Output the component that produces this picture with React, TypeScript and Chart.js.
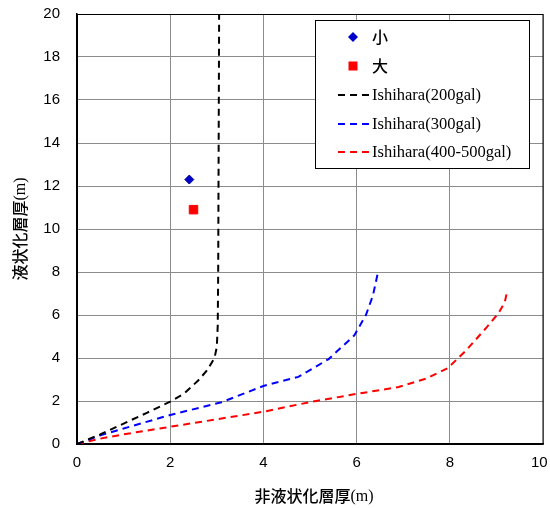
import React, { useEffect, useRef } from "react";
import { Chart, registerables } from "chart.js";

Chart.register(...registerables);

// 非液状化層厚 (x) vs 液状化層厚 (y)
const smallPoint = [{ x: 2.41, y: 12.3 }];
const largePoint = [{ x: 2.5, y: 10.9 }];

const ishihara200X = [0, 0.5, 1.0, 1.5, 2.0, 2.3, 2.6, 2.8, 2.95, 3.0, 3.02, 3.03, 3.04, 3.05];
const ishihara200Y = [0, 0.45, 0.95, 1.45, 1.97, 2.35, 2.95, 3.45, 4.0, 4.5, 5.5, 8, 14, 20];

const ishihara300X = [0, 0.5, 1.0, 2.0, 3.1, 4.0, 4.75, 5.4, 5.95, 6.2, 6.35, 6.45];
const ishihara300Y = [0, 0.4, 0.72, 1.35, 1.94, 2.7, 3.12, 3.95, 5.05, 6.0, 6.9, 7.9];

const ishihara400X = [0, 0.5, 1.0, 2.0, 3.0, 4.0, 5.0, 6.0, 6.9, 7.5, 7.95, 8.35, 8.8, 9.05, 9.18, 9.22];
const ishihara400Y = [0, 0.25, 0.45, 0.8, 1.15, 1.5, 1.95, 2.33, 2.65, 3.05, 3.52, 4.35, 5.45, 6.1, 6.6, 7.0];

const xTicks = [0, 2, 4, 6, 8, 10];
const yTicks = [0, 2, 4, 6, 8, 10, 12, 14, 16, 18, 20];

const xTitle = ["非液状化層厚", "(m)"];
const yTitle = ["液状化層厚", "(m)"];

const legendRows: [string, string][] = [
  ["#000000", "Ishihara(200gal)"],
  ["#0000ff", "Ishihara(300gal)"],
  ["#ff0000", "Ishihara(400-500gal)"],
];

const toPoints = (xs: number[], ys: number[]) => xs.map((x, i) => ({ x, y: ys[i] }));

const DASH = [7, 5];
const tickFont = { family: '"Liberation Sans", Arial, sans-serif', size: 15 };
const cjkFont = '500 16px "Noto Sans CJK JP", sans-serif';
const serifFont = '16px "Liberation Serif", "Times New Roman", serif';

// Draws a title made of a CJK part followed by a serif "(m)", centred on (cx, cy)
function drawMixedTitle(ctx: CanvasRenderingContext2D, parts: string[], cx: number, cy: number, rotate: boolean) {
  ctx.save();
  ctx.translate(cx, cy);
  if (rotate) ctx.rotate(-Math.PI / 2);
  ctx.fillStyle = "#000000";
  ctx.textBaseline = "middle";
  ctx.textAlign = "left";
  ctx.font = cjkFont;
  const w1 = ctx.measureText(parts[0]).width;
  ctx.font = serifFont;
  const w2 = ctx.measureText(parts[1]).width;
  const start = -(w1 + w2) / 2;
  ctx.font = cjkFont;
  ctx.fillText(parts[0], start, 0);
  ctx.font = serifFont;
  ctx.fillText(parts[1], start + w1, 1);
  ctx.restore();
}

// Frame, axis titles and boxed legend
const decorations = {
  id: "decorations",
  afterDraw(chart: Chart) {
    const ctx = chart.ctx;
    const area = chart.chartArea;
    ctx.save();
    ctx.strokeStyle = "#000000";
    ctx.lineWidth = 1;
    ctx.strokeRect(area.left + 0.5, area.top + 0.5, area.right - area.left - 0.5, area.bottom - area.top);
    ctx.restore();

    drawMixedTitle(ctx, xTitle, (area.left + area.right) / 2 + 4, 496, false);
    drawMixedTitle(ctx, yTitle, 20, (area.top + area.bottom) / 2, true);

    const left = 315;
    const top = 20;
    const right = 529;
    const bottom = 168;
    ctx.save();
    ctx.fillStyle = "#ffffff";
    ctx.fillRect(left, top, right - left, bottom - top);
    ctx.strokeStyle = "#000000";
    ctx.lineWidth = 1;
    ctx.strokeRect(left + 0.5, top + 0.5, right - left, bottom - top);

    const textX = 372;
    const markX = 353;

    ctx.fillStyle = "#0000cc";
    ctx.beginPath();
    ctx.moveTo(markX, 37 - 5);
    ctx.lineTo(markX + 5, 37);
    ctx.lineTo(markX, 37 + 5);
    ctx.lineTo(markX - 5, 37);
    ctx.closePath();
    ctx.fill();
    ctx.fillStyle = "#ff0000";
    ctx.fillRect(markX - 4.5, 66 - 4.5, 9, 9);

    ctx.fillStyle = "#000000";
    ctx.textBaseline = "middle";
    ctx.textAlign = "left";
    ctx.font = cjkFont;
    ctx.fillText("小", textX, 37);
    ctx.fillText("大", textX, 66);

    const rowY = [95, 124, 152];
    ctx.font = '16.5px "Liberation Serif", "Times New Roman", serif';
    legendRows.forEach(([color, label], i) => {
      const y = rowY[i];
      ctx.strokeStyle = color;
      ctx.lineWidth = 2;
      ctx.setLineDash(DASH);
      ctx.beginPath();
      ctx.moveTo(338, y);
      ctx.lineTo(369, y);
      ctx.stroke();
      ctx.setLineDash([]);
      ctx.fillStyle = "#000000";
      ctx.fillText(label, textX, y + 1);
    });
    ctx.restore();
  },
};

export default function App() {
  const canvasRef = useRef<HTMLCanvasElement | null>(null);

  useEffect(() => {
    document.body.style.margin = "0";
    const canvas = canvasRef.current;
    if (!canvas) return;
    const lineStyle = {
      showLine: true,
      borderWidth: 2,
      borderDash: DASH,
      pointRadius: 0,
      fill: false,
      tension: 0,
    };
    const lastX = xTicks[xTicks.length - 1];
    const chart = new Chart(canvas, {
      type: "scatter",
      data: {
        datasets: [
          {
            label: legendRows[0][1],
            data: toPoints(ishihara200X, ishihara200Y),
            borderColor: legendRows[0][0],
            ...lineStyle,
          },
          {
            label: legendRows[1][1],
            data: toPoints(ishihara300X, ishihara300Y),
            borderColor: legendRows[1][0],
            ...lineStyle,
          },
          {
            label: legendRows[2][1],
            data: toPoints(ishihara400X, ishihara400Y),
            borderColor: legendRows[2][0],
            ...lineStyle,
          },
          {
            label: "小",
            data: smallPoint,
            pointStyle: "rectRot",
            pointRadius: 4.5,
            backgroundColor: "#0000cc",
            borderColor: "#000099",
            borderWidth: 1,
          },
          {
            label: "大",
            data: largePoint,
            pointStyle: "rect",
            pointRadius: 6,
            backgroundColor: "#ff0000",
            borderColor: "#ff0000",
            borderWidth: 1,
          },
        ],
      },
      options: {
        animation: false,
        responsive: false,
        layout: { padding: { top: 14, right: 6, left: 0, bottom: 0 } },
        plugins: {
          legend: { display: false },
          tooltip: { enabled: false },
        },
        scales: {
          x: {
            type: "linear",
            min: 0,
            max: 10,
            afterBuildTicks: (scale: any) => {
              scale.ticks = xTicks.map((v) => ({ value: v }));
            },
            afterFit: (scale: any) => {
              scale.height = 64;
              scale.paddingRight = 0;
              scale.paddingLeft = 0;
            },
            ticks: {
              color: "#000000",
              font: tickFont,
              padding: 10,
              // keep the last label inside the canvas edge
              callback: (value: any) => (value === lastX ? `${value}\u2002` : `${value}`),
            },
            grid: { color: "#8c8c8c", lineWidth: 1, drawTicks: false },
            border: { color: "#000000", width: 1.5 },
          },
          y: {
            type: "linear",
            min: 0,
            max: 20,
            afterBuildTicks: (scale: any) => {
              scale.ticks = yTicks.map((v) => ({ value: v }));
            },
            afterFit: (scale: any) => {
              scale.width = 77;
              scale.paddingTop = 0;
              scale.paddingBottom = 0;
            },
            ticks: { color: "#000000", font: tickFont, padding: 17 },
            grid: { color: "#8c8c8c", lineWidth: 1, drawTicks: false },
            border: { color: "#000000", width: 1.5 },
          },
        },
      },
      plugins: [decorations],
    });
    return () => chart.destroy();
  }, []);

  return (
    <div style={{ width: 550, height: 508 }}>
      <canvas ref={canvasRef} width={550} height={508} />
    </div>
  );
}
